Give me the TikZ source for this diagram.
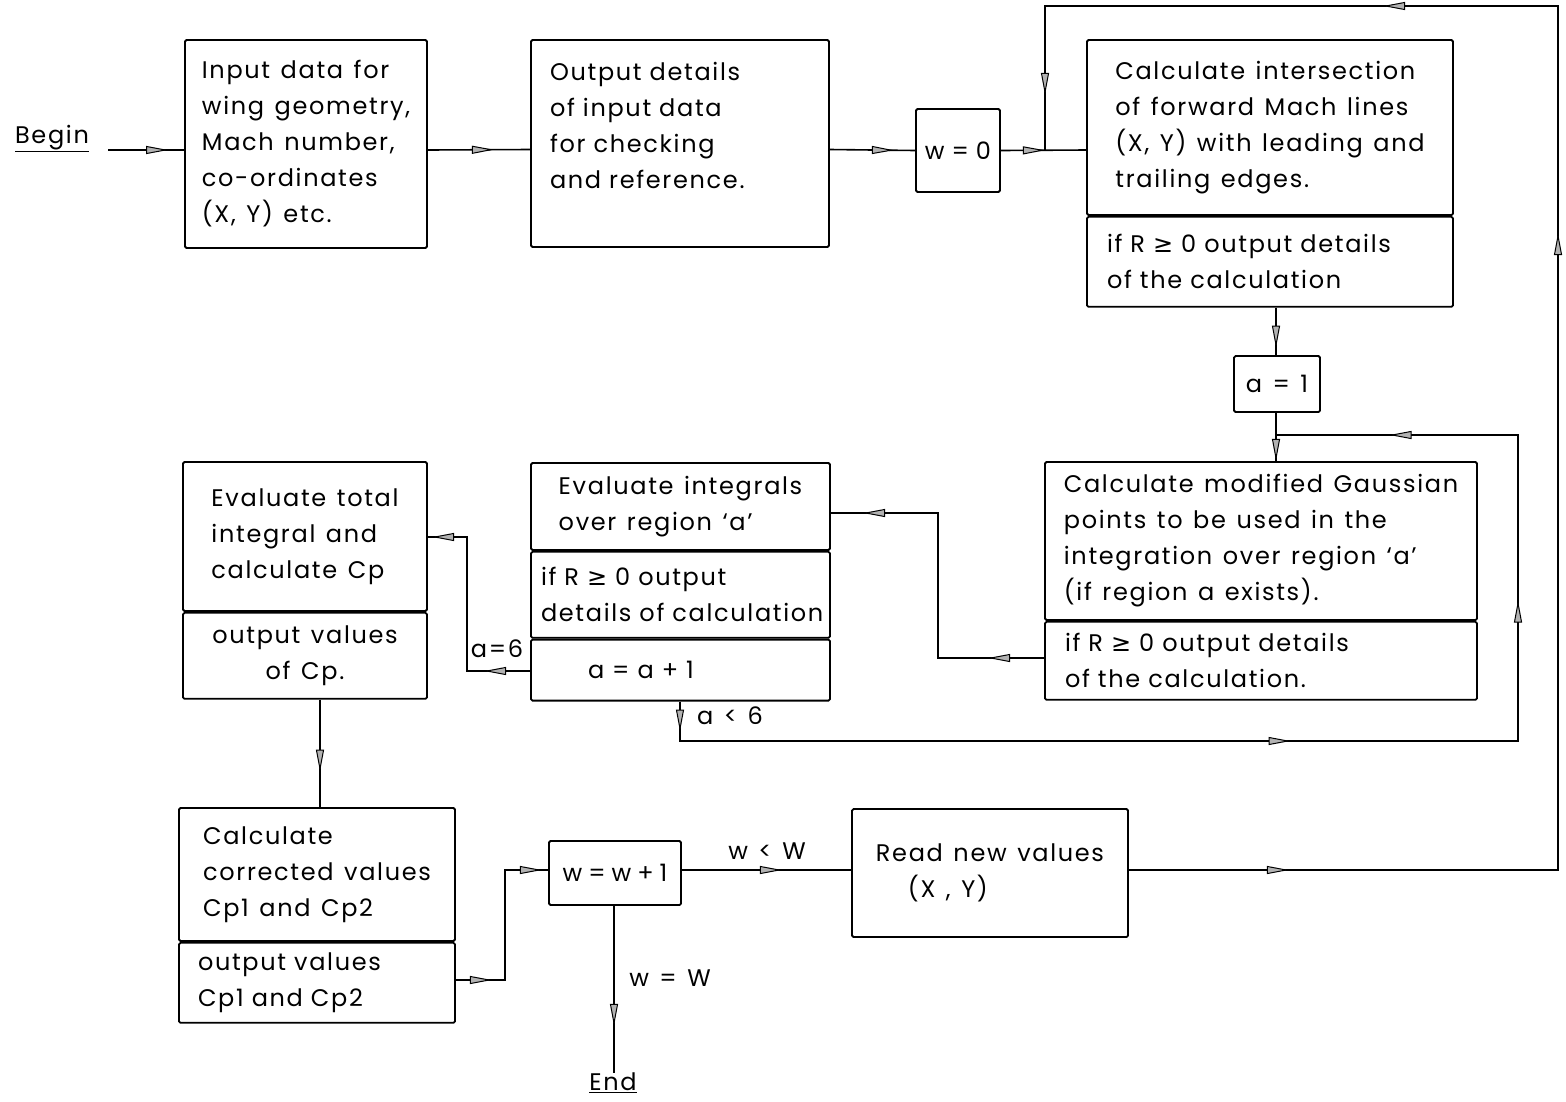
\documentclass[tikz,border=0pt]{standalone}
\usepackage{fontspec}
\setmainfont{Poppins}[LetterSpace=7,WordSpace=1.3]
\newfontfamily\symbfont{DejaVu Sans}
\newcommand{\geqsym}{{\symbfont ≥}}
\usetikzlibrary{arrows.meta,decorations.markings,positioning}
\tikzset{
	flow/.tip={Triangle[length=22pt,width=8pt,fill=gray!60,line width=1pt]},
	arrowat/.style={postaction={decorate,decoration={markings,mark=at position #1 with {\arrow{flow}}}}},
	box/.style={draw,line width=1.8pt,rounded corners=1.5pt,inner sep=0pt,align=left},
	conn/.style={line width=1.6pt},
}
\begin{document}
\begin{tikzpicture}[x=1pt,y=-1pt,font=\fontsize{24}{36}\selectfont]
	\useasboundingbox (0,0) rectangle (1566,1101);
	
	% top row
	\node (begin) [inner sep=0pt,anchor=south] at (52,152) {\underline{Begin}};
	\node[box,minimum width=242,minimum height=208] (input) at (306,144) {Input data for\\wing geometry,\\Mach number,\\co-ordinates\\(X, Y) etc.};
	\node[box,minimum width=298,minimum height=207,text width=260] (output) at (680,143.5) {Output details\\of input data\\for checking\\and reference.\\\mbox{}};
	\node[box,minimum width=84,minimum height=83,align=center] (w0) at (958,150.5) {w\hspace{7pt}=\hspace{7pt}0};
	\node[box,minimum width=366,minimum height=175] (inter) at (1270,127.5) {Calculate intersection\\of forward Mach lines\\(X, Y) with leading and\\trailing edges.};
	\node[box,minimum width=366,minimum height=90,text width=326,below=0pt of inter] (interout) {if R \geqsym\ 0 output details\\of the calculation};
	\node[box,minimum width=86,minimum height=56,align=center] (a1) at (1277,384) {a = 1};
	
	% middle row
	\node[box,minimum width=432,minimum height=158] (gauss) at (1261,541) {Calculate modified Gaussian\\points to be used in the\\integration over region ‘a’\\(if region a exists).};
	\node[box,minimum width=432,minimum height=78,text width=392,below=0pt of gauss] (gaussout) {if R \geqsym\ 0 output details\\of the calculation.};
	\node[box,minimum width=299,minimum height=87] (integ) at (680.5,506.5) {Evaluate integrals\\over region ‘a’};
	\node[box,minimum width=299,minimum height=86,text width=279,below=0pt of integ] (integout) {if R \geqsym\ 0 output\\details of calculation};
	\node[box,minimum width=299,minimum height=61,text width=261,below=0pt of integout] (incr) {\hspace{38pt}a = a + 1};
	\node[box,minimum width=244,minimum height=149] (total) at (305,536.5) {Evaluate total\\integral and\\calculate Cp};
	\node[box,minimum width=244,minimum height=86,align=center,below=0pt of total] (totalout) {output values\\of Cp.};
	
	% bottom row
	\node[box,minimum width=276,minimum height=133] (corr) at (317,874.5) {Calculate\\corrected values\\Cp1 and Cp2};
	\node[box,minimum width=276,minimum height=80,text width=238,below=0pt of corr] (corrout) {output values\\Cp1 and Cp2};
	\node[box,minimum width=132,minimum height=64,align=center] (wnext) at (615,873) {w\hspace{6pt}=\hspace{6pt}w\hspace{6pt}+\hspace{6pt}1};
	\node[box,minimum width=276,minimum height=128] (readxy) at (990,873) {Read new values\\\hspace{32pt}(X , Y)};
	\node (end) [inner sep=0pt] at (613,1083) {\underline{End}};
	
	% labels
	\node (lsix) at (497,649) {a=6};
	\node (lless) at (730,716) {a < 6};
	\node (wless) at (767,851) {w < W};
	\node (wend) at (670,978) {w = W};
	
	% junctions and corners
	\coordinate (inin) at ([yshift=-6pt]input.west);
	\coordinate (j1) at (1045,150);
	\coordinate (j2) at (1276,435);
	\coordinate (br) at (1558,870);
	\coordinate (tr) at (1558,6);
	\coordinate (tl) at (1045,6);
	\coordinate (lb) at (680,741);
	\coordinate (rb) at (1518,741);
	\coordinate (rt) at (1518,435);
	\coordinate (g1) at (938,658);
	\coordinate (g2) at (938,513);
	\coordinate (e1) at (467,671);
	\coordinate (e2) at (467,537);
	\coordinate (k1) at (505,980);
	\coordinate (k2) at (505,870);
	
	\draw[conn,arrowat=60pt] ([xshift=19pt]begin.east |- inin) -- (inin);
	\draw[conn,arrowat=66pt] ([yshift=-6pt]input.east) -- ([yshift=-6pt]output.west);
	\draw[conn,arrowat=64pt] ([yshift=-6pt]output.east) -- (w0.west);
	\draw[conn,arrowat=44pt] (w0.west -| w0.east) -- ([yshift=-22.5pt]inter.west);
	\draw[conn,arrowat=160pt,arrowat=1066pt,arrowat=1468pt,arrowat=1895pt] ([yshift=3pt]readxy.east) -- (br) -- (tr) -- (tl) -- (j1);
	\draw[conn,arrowat=40pt] ([xshift=6pt]interout.south) -- ([xshift=-1pt]a1.north);
	\draw[conn,arrowat=48pt] ([xshift=-1pt]a1.south) -- ([xshift=-1pt]a1.south |- gauss.north);
	\draw[conn,arrowat=30pt,arrowat=650pt,arrowat=1018pt,arrowat=1312pt] (incr.south -| lb) -- (lb) -- (rb) -- (rt) -- (j2);
	\draw[conn,arrowat=56pt,arrowat=326pt] (gaussout.west |- g1) -- (g1) -- (g2) -- (integ.east |- g2);
	\draw[conn,arrowat=46pt,arrowat=232pt] (incr.west |- e1) -- (e1) -- (e2) -- (total.east |- e2);
	\draw[conn,arrowat=72pt] ([xshift=15pt]totalout.south) -- ([xshift=3pt]corr.north);
	\draw[conn,arrowat=36pt,arrowat=196pt] (corrout.east |- k1) -- (k1) -- (k2) -- (wnext.west |- k2);
	\draw[conn,arrowat=100pt] ([yshift=3pt]wnext.east) -- ([yshift=3pt]readxy.west);
	\draw[conn,arrowat=120pt] ([xshift=-1pt]wnext.south) -- ([xshift=1pt]end.north);
\end{tikzpicture}
\end{document}
